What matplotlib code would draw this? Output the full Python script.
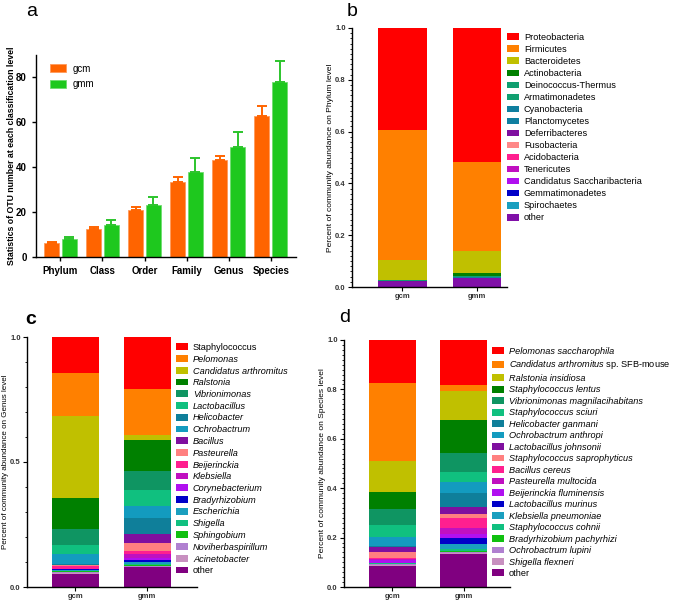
import matplotlib
matplotlib.use("Agg")
import matplotlib.pyplot as plt
import numpy as np
from matplotlib.patches import Patch

plt.rcParams['font.family'] = ['Liberation Sans', 'DejaVu Sans']
plt.rcParams['mathtext.fontset'] = 'custom'
plt.rcParams['mathtext.it'] = 'Liberation Sans:italic'
plt.rcParams['mathtext.rm'] = 'Liberation Sans'

# ---- panel a: OTU counts ----
levels = ['Phylum', 'Class', 'Order', 'Family', 'Genus', 'Species']
gcm_otu = [6.3, 12.5, 21.0, 33.3, 43.0, 62.8]
gcm_err = [0.6, 0.8, 1.5, 2.2, 1.8, 4.4]
gmm_otu = [7.8, 14.3, 23.3, 37.8, 49.0, 78.1]
gmm_err = [1.2, 2.0, 3.3, 6.1, 6.8, 9.2]

samples = ['gcm', 'gmm']

# ---- panel b: phylum ----
phyla = ['Proteobacteria', 'Firmicutes', 'Bacteroidetes', 'Actinobacteria',
         'Deinococcus-Thermus', 'Armatimonadetes', 'Cyanobacteria', 'Planctomycetes',
         'Deferribacteres', 'Fusobacteria', 'Acidobacteria', 'Tenericutes',
         'Candidatus Saccharibacteria', 'Gemmatimonadetes', 'Spirochaetes', 'other']
phylum_gcm = [0.393, 0.502, 0.077, 0.002, 0.001, 0.001, 0.001, 0.001,
              0.001, 0.0, 0.0, 0.0, 0.0, 0.0, 0.001, 0.020]
phylum_gmm = [0.517, 0.344, 0.085, 0.013, 0.002, 0.001, 0.001, 0.001,
              0.0, 0.0, 0.0, 0.0, 0.0, 0.0, 0.0, 0.036]
phylum_colors = ['#FF0000', '#FF8000', '#C0C000', '#008000', '#0F9F6F', '#10A070',
                 '#0F7F9F', '#0F7FA0', '#7F0FA0', '#FF8888', '#FF1F8F', '#C010C0',
                 '#B010F0', '#0000C8', '#1A9FBF', '#8010A8']

# ---- panel c: genus ----
genera = ['Staphylococcus', 'Pelomonas', 'Candidatus arthromitus', 'Ralstonia',
          'Vibrionimonas', 'Lactobacillus', 'Helicobacter', 'Ochrobactrum', 'Bacillus',
          'Pasteurella', 'Beijerinckia', 'Klebsiella', 'Corynebacterium',
          'Bradyrhizobium', 'Escherichia', 'Shigella', 'Sphingobium',
          'Noviherbaspirillum', 'Acinetobacter', 'other']
genus_gcm = [0.145, 0.172, 0.325, 0.125, 0.066, 0.033, 0.004, 0.040, 0.002, 0.004,
             0.010, 0.002, 0.001, 0.002, 0.003, 0.003, 0.002, 0.003, 0.005, 0.053]
genus_gmm = [0.207, 0.185, 0.021, 0.123, 0.076, 0.063, 0.063, 0.049, 0.038, 0.030,
             0.012, 0.016, 0.010, 0.008, 0.006, 0.006, 0.003, 0.002, 0.001, 0.081]

# ---- panel d: species ----
species = ['Pelomonas saccharophila', 'Candidatus arthromitus sp. SFB-mouse',
           'Ralstonia insidiosa', 'Staphylococcus lentus',
           'Vibrionimonas magnilacihabitans', 'Staphylococcus sciuri',
           'Helicobacter ganmani', 'Ochrobactrum anthropi', 'Lactobacillus johnsonii',
           'Staphylococcus saprophyticus', 'Bacillus cereus', 'Pasteurella multocida',
           'Beijerinckia fluminensis', 'Lactobacillus murinus', 'Klebsiella pneumoniae',
           'Staphylococcus cohnii', 'Bradyrhizobium pachyrhizi', 'Ochrobactrum lupini',
           'Shigella flexneri', 'other']
species_gcm = [0.173, 0.318, 0.124, 0.069, 0.066, 0.049, 0.001, 0.037, 0.021, 0.026,
               0.002, 0.005, 0.010, 0.001, 0.002, 0.002, 0.001, 0.004, 0.003, 0.086]
species_gmm = [0.182, 0.023, 0.119, 0.132, 0.077, 0.041, 0.059, 0.044, 0.027, 0.017,
               0.040, 0.024, 0.017, 0.025, 0.018, 0.008, 0.005, 0.005, 0.005, 0.132]

colors20 = ['#FF0000', '#FF8000', '#C0C000', '#008000', '#0F9562', '#10C07F',
            '#0F7F9A', '#139BBF', '#7F0F9F', '#FF8080', '#FF1F8F', '#C010C0',
            '#B010F0', '#0000C8', '#1A9FBF', '#10C080', '#10C010', '#B080D0',
            '#C890C0', '#800080']

fig = plt.figure(figsize=(6.75, 6.02), dpi=100)
W, H = 675.0, 602.0


def add_ax(x0, y0, x1, y1):
    return fig.add_axes([x0 / W, 1 - y1 / H, (x1 - x0) / W, (y1 - y0) / H])


def style_ax(ax):
    ax.spines['top'].set_visible(False)
    ax.spines['right'].set_visible(False)
    ax.spines['left'].set_linewidth(1.0)
    ax.spines['bottom'].set_linewidth(1.0)


def place_ylabel(ax, x_px, x0, width):
    # x_px: right edge of the rotated label, in figure pixels
    ax.yaxis.set_label_coords((x_px - x0) / width, 0.5)


# ---------- a ----------
ax = add_ax(36, 55, 296, 257)
style_ax(ax)
x = np.arange(len(levels))
w = 0.355
off = 0.21
ax.bar(x - off, gcm_otu, w, color='#FF6400', edgecolor='#FF9A5A', linewidth=0.6, label='gcm')
ax.bar(x + off, gmm_otu, w, color='#1EC81E', edgecolor='#70DC70', linewidth=0.6, label='gmm')
ax.errorbar(x - off, gcm_otu, yerr=[np.zeros(6), gcm_err], fmt='none', ecolor='#FF6400',
            elinewidth=1.4, capsize=3.5, capthick=1.4)
ax.errorbar(x + off, gmm_otu, yerr=[np.zeros(6), gmm_err], fmt='none', ecolor='#2CC42C',
            elinewidth=1.4, capsize=3.5, capthick=1.4)
ax.set_xlim(-0.58, 5.6)
ax.set_ylim(0, 90)
ax.set_yticks([0, 20, 40, 60, 80])
ax.set_xticks(x)
ax.set_xticklabels(levels, fontsize=7, fontweight='bold')
for t in ax.get_yticklabels():
    t.set_fontsize(7)
    t.set_fontweight('bold')
ax.tick_params(length=3, width=1)
ax.set_ylabel('Statistics of OTU number at each classification level', fontsize=6.3,
              fontweight='bold')
place_ylabel(ax, 16, 36, 260)
ax.legend(loc='upper left', frameon=False, fontsize=7, handlelength=1.6, handleheight=0.9,
          handletextpad=0.7, labelspacing=0.55, bbox_to_anchor=(0.02, 1.0))
fig.text(32 / W, 1 - 12 / H, 'a', fontsize=14, va='center', ha='center')


def stacked(ax, values_by_sample, colors, order, width):
    xs = np.arange(len(values_by_sample))
    bottoms = np.zeros(len(values_by_sample))
    for i in order:
        h = np.array([v[i] for v in values_by_sample])
        ax.bar(xs, h, width, bottom=bottoms, color=colors[i], edgecolor='none')
        bottoms += h
    ax.set_xticks(xs)
    ax.set_xticklabels(samples, fontsize=5, fontweight='bold')
    ax.set_ylim(0, 1)


def small_ticks(ax, major, minor):
    ax.set_yticks(major)
    ax.set_yticks(minor, minor=True)
    ax.tick_params(axis='both', which='major', length=3, width=0.8, labelsize=5.5,
                   labelcolor='#333333', pad=1.5)
    ax.tick_params(axis='y', which='minor', length=1.6, width=0.6)
    for t in ax.get_yticklabels():
        t.set_fontweight('bold')


def legend_at(ax, labels, colors, x0, y0, spacing):
    handles = [Patch(facecolor=c, edgecolor='none') for c in colors]
    leg = ax.legend(handles, labels, loc='upper left', frameon=False, fontsize=6.6,
                    bbox_to_anchor=(x0 / W, 1 - y0 / H), bbox_transform=fig.transFigure,
                    borderaxespad=0, borderpad=0, handlelength=1.35, handleheight=0.75,
                    handletextpad=0.5, labelspacing=spacing)
    return leg


# ---------- b ----------
ax = add_ax(352, 28, 507, 287)
style_ax(ax)
order_b = list(range(len(phyla)))[::-1]
stacked(ax, [phylum_gcm, phylum_gmm], phylum_colors, order_b, 0.65)
ax.set_xlim(-0.67, 1.4)
small_ticks(ax, np.arange(0, 1.01, 0.2), np.arange(0, 1.001, 0.02))
ax.set_yticklabels(['0.0', '0.2', '0.4', '0.6', '0.8', '1.0'])
ax.set_ylabel('Percent of community abundance on Phylum level', fontsize=6)
place_ylabel(ax, 334, 352, 155)
legend_at(ax, phyla, phylum_colors, 507, 33, 0.33)
fig.text(352 / W, 1 - 12 / H, 'b', fontsize=14, va='center', ha='center')

# stack order: bottom up, Ochrobactrum drawn above Helicobacter
order_cd = [19, 18, 17, 16, 15, 14, 13, 12, 11, 10, 9, 8, 6, 7, 5, 4, 3, 2, 1, 0]

# ---------- c ----------
ax = add_ax(27, 337, 197, 587)
style_ax(ax)
stacked(ax, [genus_gcm, genus_gmm], colors20, order_cd, 0.65)
ax.set_xlim(-0.67, 1.69)
small_ticks(ax, [0, 0.5, 1.0], np.arange(0, 1.001, 0.1))
ax.set_yticklabels(['0.0', '0.5', '1.0'])
ax.set_ylabel('Percent of community abundance on Genus level', fontsize=5.8)
place_ylabel(ax, 9, 27, 170)
leg = legend_at(ax, genera, colors20, 176, 343, 0.30)
for t in leg.get_texts():
    if t.get_text() not in ('Staphylococcus', 'other'):
        t.set_style('italic')
fig.text(31 / W, 1 - 320 / H, 'c', fontsize=14, fontweight='bold', va='center', ha='center')

# ---------- d ----------
ax = add_ax(344, 340, 510, 587)
style_ax(ax)
stacked(ax, [species_gcm, species_gmm], colors20, order_cd, 0.66)
ax.set_xlim(-0.68, 1.65)
small_ticks(ax, np.arange(0, 1.01, 0.2), np.arange(0, 1.001, 0.02))
ax.set_yticklabels(['0.0', '0.2', '0.4', '0.6', '0.8', '1.0'])
ax.set_ylabel('Percent of community abundance on Species level', fontsize=6)
place_ylabel(ax, 326, 344, 166)
sp_labels = [r'$\mathit{Candidatus\ arthromitus}$ sp. SFB-mouse' if s.startswith('Candidatus')
             else s for s in species]
leg = legend_at(ax, sp_labels, colors20, 492, 347, 0.27)
for t in leg.get_texts():
    if t.get_text() != 'other' and not t.get_text().startswith('$'):
        t.set_style('italic')
fig.text(345 / W, 1 - 318 / H, 'd', fontsize=14, va='center', ha='center')

fig.savefig('out.png', dpi=100)
